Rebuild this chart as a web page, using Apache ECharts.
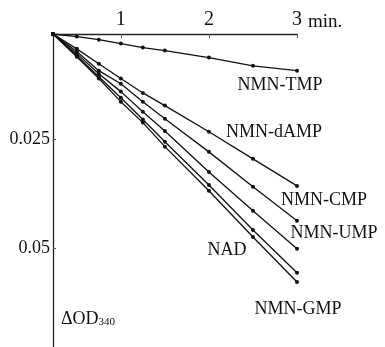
<!DOCTYPE html>
<html><head><meta charset="utf-8">
<script src="https://cdn.jsdelivr.net/npm/echarts@6/dist/echarts.min.js"></script>
<style>html,body{margin:0;padding:0;background:#fff}#c{width:385px;height:347px}</style>
</head><body><div id="c"></div>
<script>
// time (min) ; first value = origin of the axes
const times = [0.23, 0.5, 0.75, 1, 1.25, 1.5, 2, 2.5, 3];
const xTickValues = [1, 2, 3];
const yTickValues = [0.025, 0.05];
const seriesNames = ['NMN-TMP', 'NMN-dAMP', 'NMN-CMP', 'NMN-UMP', 'NMN-GMP', 'NAD'];
const tmp  = [0.001, 0.0016, 0.0023, 0.0032, 0.0041, 0.0048, 0.0064, 0.0083, 0.0094];
const damp = [0.001, 0.0044, 0.0078, 0.0112, 0.0145, 0.0174, 0.0234, 0.0296, 0.0358];
const cmp  = [0.001, 0.0050, 0.0094, 0.0124, 0.0165, 0.0204, 0.0280, 0.0360, 0.0438];
const ump  = [0.001, 0.0055, 0.0101, 0.0142, 0.0188, 0.0232, 0.0326, 0.0415, 0.0502];
const gmp  = [0.001, 0.0060, 0.0108, 0.0156, 0.0206, 0.0257, 0.0356, 0.0459, 0.0557];
const nad  = [0.001, 0.0062, 0.0112, 0.0165, 0.0213, 0.0268, 0.0369, 0.0475, 0.0578];

const values = [tmp, damp, cmp, ump, gmp, nad];
const labelOffsets = [[-17, 15], [-23, -54], [27, -21], [37, -16], [1, 36], [-70, -32]];
const font = "'Liberation Serif','DejaVu Serif',serif";

const chart = echarts.init(document.getElementById('c'), null, {renderer: 'canvas'});
chart.setOption({
  animation: false,
  backgroundColor: '#fff',
  grid: {left: 53, right: 88, top: 34, bottom: 0, containLabel: false},
  xAxis: {
    type: 'value', position: 'top', min: 0.23, max: 3,
    name: 'min.', nameLocation: 'end', nameGap: 8,
    nameTextStyle: {fontFamily: font, fontSize: 19, color: '#111', verticalAlign: 'bottom', padding: [0, 0, 2, 0]},
    axisLine: {show: true, lineStyle: {color: '#222', width: 1.3}},
    axisTick: {show: true, inside: true, length: 4, customValues: xTickValues, lineStyle: {color: '#555', width: 1}},
    axisLabel: {show: true, customValues: xTickValues, fontFamily: font, fontSize: 20, color: '#111', margin: 4},
    splitLine: {show: false}
  },
  yAxis: {
    type: 'value', inverse: true, min: 0.001, max: 0.0727,
    name: '{a|ΔOD}{s|340}', nameLocation: 'end', nameGap: -37,
    nameTextStyle: {align: 'left', padding: [0, 0, 0, 8], rich: {
      a: {fontFamily: font, fontSize: 18, color: '#111'},
      s: {fontFamily: font, fontSize: 11, color: '#111', verticalAlign: 'bottom', padding: [6, 0, 0, 0]}
    }},
    axisLine: {show: true, onZero: false, lineStyle: {color: '#222', width: 1.3}},
    axisTick: {show: true, inside: true, length: 3, customValues: yTickValues, lineStyle: {color: '#555', width: 1}},
    axisLabel: {show: true, customValues: yTickValues, fontFamily: font, fontSize: 18, color: '#111', margin: 3,
      formatter: v => String(+v.toFixed(3))},
    splitLine: {show: false}
  },
  series: seriesNames.map((name, i) => ({
    name: name, type: 'line',
    data: times.map((t, j) => [t, values[i][j]]),
    symbol: 'circle', symbolSize: 4, showSymbol: true,
    lineStyle: {color: '#111', width: 1.3},
    itemStyle: {color: '#111'},
    emphasis: {disabled: true},
    endLabel: {show: true, formatter: name, fontFamily: font, fontSize: 18, color: '#111',
      align: 'center', verticalAlign: 'middle', distance: 0, offset: labelOffsets[i]}
  }))
});
</script></body></html>
